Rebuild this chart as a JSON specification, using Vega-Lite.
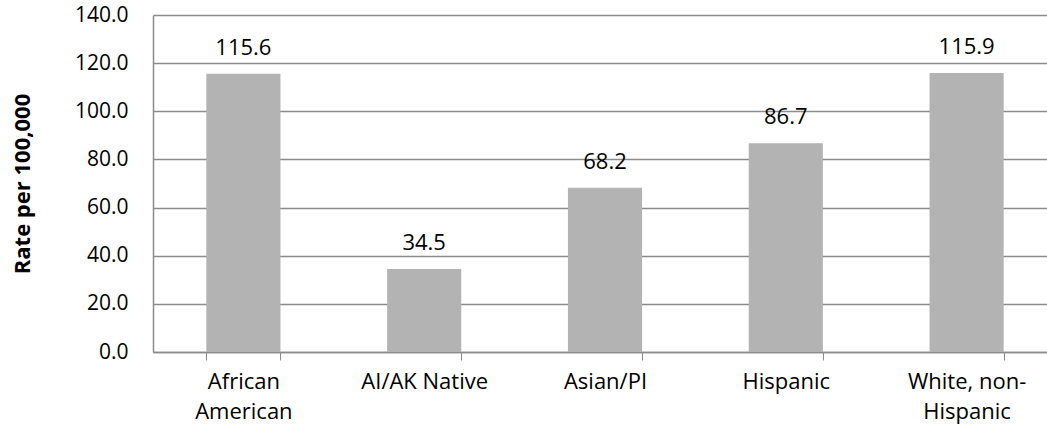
{
  "$schema": "https://vega.github.io/schema/vega-lite/v6.json",
  "autosize": "none",
  "padding": {"left": 153, "top": 15, "right": 0, "bottom": 80},
  "width": 904,
  "height": 337,
  "background": "white",
  "data": {"values": [
    {"group": "African American", "rate": 115.6},
    {"group": "AI/AK Native", "rate": 34.5},
    {"group": "Asian/PI", "rate": 68.2},
    {"group": "Hispanic", "rate": 86.7},
    {"group": "White, non-Hispanic", "rate": 115.9}
  ]},
  "config": {
    "view": {"stroke": null},
    "font": "Open Sans",
    "axis": {"labelFont": "Open Sans", "titleFont": "Open Sans"}
  },
  "encoding": {
    "x": {
      "field": "group", "type": "nominal", "sort": null,
      "scale": {"paddingInner": 0.59, "paddingOuter": 0.295},
      "axis": {
        "title": null, "labelAngle": 0, "labelFontSize": 22, "labelColor": "#000",
        "labelExpr": "datum.label == 'African American' ? ['African', 'American'] : datum.label == 'White, non-Hispanic' ? ['White, non-', 'Hispanic'] : datum.label",
        "labelLineHeight": 30, "labelPadding": 11, "labelBaseline": "top",
        "tickBand": "extent", "tickSize": 8, "tickColor": "#8c8c8c", "domainColor": "#8c8c8c",
        "tickWidth": 1, "domainWidth": 1.5
      }
    },
    "y": {
      "field": "rate", "type": "quantitative",
      "scale": {"domain": [0, 140], "nice": false},
      "axis": {
        "title": "Rate per 100,000", "titleFontSize": 22, "titleFontWeight": "bold", "titleColor": "#000",
        "titlePadding": 40, "values": [0, 20, 40, 60, 80, 100, 120, 140], "format": ".1f",
        "labelFontSize": 21, "labelColor": "#000", "labelPadding": 25, "ticks": false,
        "grid": true, "gridColor": "#8c8c8c", "gridWidth": 1.5, "domainColor": "#8c8c8c", "domainWidth": 1.5
      }
    }
  },
  "layer": [
    {"mark": {"type": "bar", "color": "#b3b3b3"}},
    {"mark": {"type": "text", "baseline": "alphabetic", "dy": -19, "fontSize": 22, "color": "#000"},
     "encoding": {"text": {"field": "rate", "type": "quantitative", "format": ".1f"}}}
  ]
}
